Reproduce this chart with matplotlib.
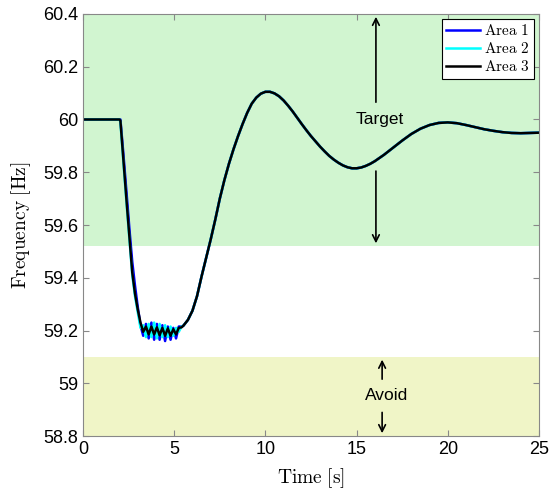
import matplotlib.pyplot as plt

plt.rcParams['mathtext.fontset'] = 'cm'

# time [s] and frequency [Hz]
t_dip = [0, 2.0, 2.05, 2.2, 2.4, 2.55, 2.7, 2.85, 3.0, 3.15,
         3.3, 3.45, 3.6, 3.75, 3.9, 4.05, 4.2, 4.35, 4.5, 4.65, 4.8, 4.95, 5.1, 5.25, 5.4]
f1_dip = [60, 60, 60.0, 59.88, 59.71, 59.58, 59.46, 59.37, 59.29, 59.22,
          59.18, 59.225, 59.17, 59.23, 59.165, 59.225, 59.165, 59.22, 59.16, 59.215,
          59.165, 59.21, 59.17, 59.215, 59.215]
f2_dip = [60, 60, 59.99, 59.85, 59.67, 59.54, 59.41, 59.33, 59.27, 59.21,
          59.22, 59.175, 59.225, 59.175, 59.23, 59.17, 59.225, 59.175, 59.22, 59.175,
          59.215, 59.18, 59.21, 59.195, 59.215]
f3_dip = [60, 60, 59.995, 59.86, 59.68, 59.55, 59.42, 59.34, 59.28, 59.23,
          59.195, 59.215, 59.185, 59.215, 59.185, 59.212, 59.182, 59.21, 59.18, 59.208,
          59.18, 59.205, 59.185, 59.21, 59.212]

t_rec = [5.5, 5.75, 6.0, 6.25, 6.5, 6.75, 7.0, 7.25, 7.5, 7.75, 8.0, 8.25, 8.5, 8.75,
         9.0, 9.25, 9.5, 9.75, 10.0, 10.25, 10.5, 10.75, 11.0, 11.25, 11.5, 11.75,
         12.0, 12.25, 12.5, 12.75, 13.0, 13.25, 13.5, 13.75, 14.0, 14.25, 14.5, 14.75,
         15.0, 15.25, 15.5, 15.75, 16.0, 16.5, 17.0, 17.5, 18.0, 18.5, 19.0, 19.5,
         20.0, 20.5, 21.0, 21.5, 22.0, 22.5, 23.0, 23.5, 24.0, 24.5, 25.0]
f_rec = [59.218, 59.24, 59.275, 59.33, 59.405, 59.475, 59.545, 59.62, 59.70, 59.77,
         59.832, 59.887, 59.937, 59.983, 60.025, 60.06, 60.083, 60.098, 60.105, 60.105,
         60.099, 60.088, 60.072, 60.052, 60.03, 60.006, 59.982, 59.959, 59.937, 59.917,
         59.897, 59.879, 59.862, 59.848, 59.836, 59.826, 59.819, 59.815, 59.815, 59.818,
         59.824, 59.832, 59.842, 59.866, 59.893, 59.92, 59.945, 59.965, 59.979, 59.987,
         59.989, 59.986, 59.979, 59.971, 59.963, 59.957, 59.952, 59.949, 59.948, 59.949, 59.95]

areas = ['Area 1', 'Area 2', 'Area 3']
colors = ['#0000ff', '#00ffff', '#000000']
dips = [f1_dip, f2_dip, f3_dip]

target_band = (59.52, 60.4)
avoid_band = (58.8, 59.1)

fig = plt.figure(figsize=(5.52, 4.91), dpi=100)
ax = fig.add_axes([0.1504, 0.112, 0.826, 0.8595])

ax.axhspan(*target_band, color='#d1f5d0', lw=0, zorder=0)
ax.axhspan(*avoid_band, color='#f0f5c7', lw=0, zorder=0)

for name, c, fd in zip(areas, colors, dips):
    ax.plot(t_dip + t_rec, fd + f_rec, color=c, lw=1.8, label=r'$\mathrm{%s}$' % name.replace(' ', r'\ '))

arr = dict(arrowstyle='->', color='black', lw=1.2, mutation_scale=12)
ax.annotate('', xy=(16.06, 60.4), xytext=(16.06, 60.055), arrowprops=arr)
ax.annotate('', xy=(16.06, 59.52), xytext=(16.06, 59.815), arrowprops=arr)
ax.text(16.28, 60.0, 'Target', ha='center', va='center', fontsize=12.5, family='Liberation Sans')
ax.annotate('', xy=(16.4, 59.1), xytext=(16.4, 59.005), arrowprops=arr)
ax.annotate('', xy=(16.4, 58.8), xytext=(16.4, 58.9), arrowprops=arr)
ax.text(16.66, 58.955, 'Avoid', ha='center', va='center', fontsize=12.5, family='Liberation Sans')

ax.set_xlim(0, 25)
ax.set_ylim(58.8, 60.4)
ax.set_xticks([0, 5, 10, 15, 20, 25])
ax.set_yticks([58.8, 59, 59.2, 59.4, 59.6, 59.8, 60, 60.2, 60.4])
ax.set_yticklabels(['58.8', '59', '59.2', '59.4', '59.6', '59.8', '60', '60.2', '60.4'])
ax.tick_params(direction='in', top=True, right=True, color='#888888', length=4, labelsize=13)
for lab in ax.get_xticklabels() + ax.get_yticklabels():
    lab.set_family('Liberation Sans')
for s in ax.spines.values():
    s.set_color('#888888')

ax.set_xlabel(r'$\mathrm{Time\ [s]}$', fontsize=14, labelpad=6)
ax.set_ylabel(r'$\mathrm{Frequency\ [Hz]}$', fontsize=14, labelpad=7)

leg = ax.legend(loc='upper right', fontsize=11, fancybox=False, framealpha=1,
                edgecolor='black', handlelength=2.2, borderpad=0.3, labelspacing=0.2,
                handletextpad=0.3, borderaxespad=0.3)
leg.get_frame().set_linewidth(0.8)

fig.savefig('out.png', dpi=100)
